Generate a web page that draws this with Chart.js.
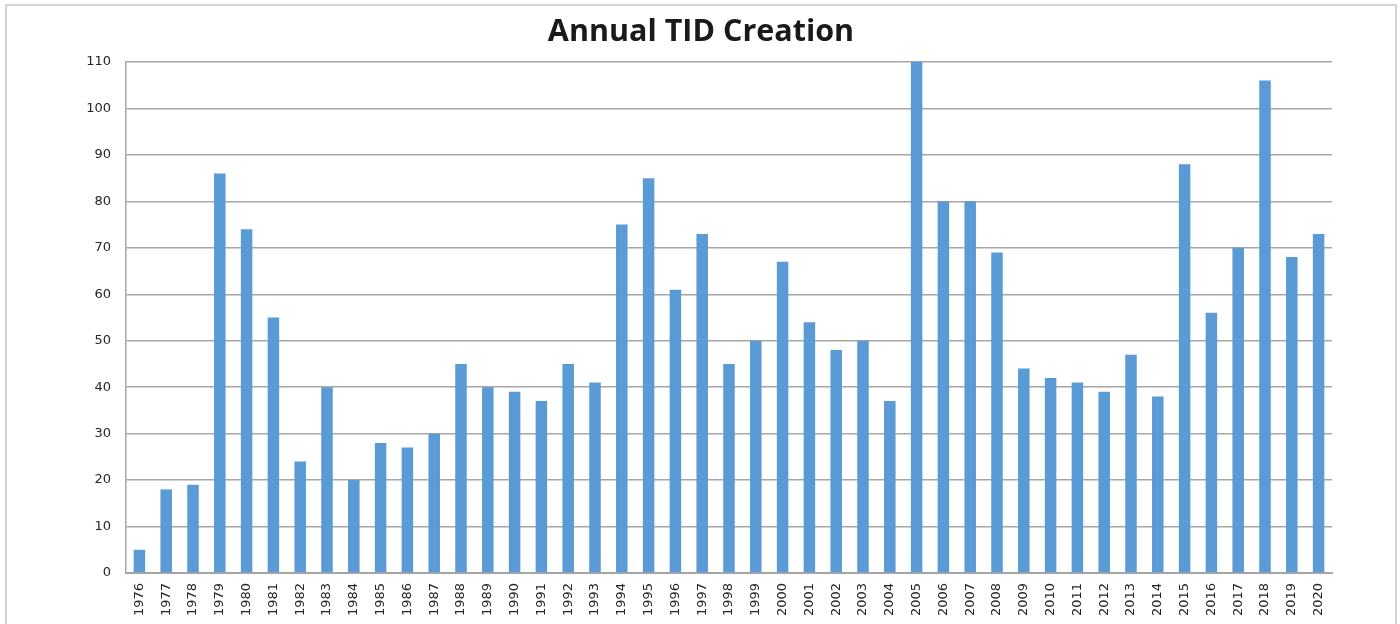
<!DOCTYPE html>
<html>
<head>
<meta charset="utf-8">
<script src="https://cdn.jsdelivr.net/npm/chart.js@4"></script>
<style>
  html, body { margin: 0; padding: 0; background: #fff; }
  #wrap { position: relative; width: 1400px; height: 624px; overflow: hidden; }
  #frame { position: absolute; left: 5px; top: 4px; width: 1388px; height: 700px; border: 2px solid #d4d4d4; }
  #tidChart { position: absolute; left: 0; top: 0; }
</style>
</head>
<body>
<div id="wrap">
  <div id="frame"></div>
  <canvas id="tidChart" width="1400" height="624"></canvas>
</div>
<script>
// Years and TID counts
var years = ["1976", "1977", "1978", "1979", "1980", "1981", "1982", "1983", "1984", "1985",
  "1986", "1987", "1988", "1989", "1990", "1991", "1992", "1993", "1994", "1995",
  "1996", "1997", "1998", "1999", "2000", "2001", "2002", "2003", "2004", "2005",
  "2006", "2007", "2008", "2009", "2010", "2011", "2012", "2013", "2014", "2015",
  "2016", "2017", "2018", "2019", "2020"];
var tidCounts = [5, 18, 19, 86, 74, 55, 24, 40, 20, 28,
  27, 30, 45, 40, 39, 37, 45, 41, 75, 85,
  61, 73, 45, 50, 67, 54, 48, 50, 37, 110,
  80, 80, 69, 44, 42, 41, 39, 47, 38, 88,
  56, 70, 106, 68, 73];
var yMin = 0, yMax = 110, yStep = 10;

document.addEventListener("DOMContentLoaded", function () {
  var ctx = document.getElementById("tidChart").getContext("2d");
  var myChart = new Chart(ctx, {
    type: "bar",
    data: {
      labels: years,
      datasets: [{
        data: tidCounts,
        backgroundColor: "#5b9bd5",
        barPercentage: 0.43,
        categoryPercentage: 1.0
      }]
    },
    options: {
      responsive: false,
      animation: false,
      layout: { padding: { left: 70, right: 68, top: 0, bottom: 0 } },
      plugins: {
        legend: { display: false },
        tooltip: { enabled: false },
        title: {
          display: true,
          text: "Annual TID Creation",
          color: "#1a1a1a",
          font: { family: "Open Sans", size: 30.5, weight: "bold", lineHeight: 1.2 },
          padding: { top: 14, bottom: 11.4 }
        }
      },
      scales: {
        x: {
          grid: { display: false, drawTicks: false },
          border: { display: true, color: "#a6a6a6", width: 2 },
          ticks: {
            color: "#262626",
            font: { family: "DejaVu Sans", size: 13 },
            minRotation: 90,
            maxRotation: 90,
            autoSkip: false,
            padding: 10
          },
          afterFit: function (scale) { scale.height = 51; }
        },
        y: {
          min: yMin,
          max: yMax,
          grid: { color: "#a6a6a6", lineWidth: 1.5, drawTicks: false },
          border: { display: true, color: "#a6a6a6", width: 1.5 },
          ticks: {
            stepSize: yStep,
            color: "#262626",
            font: { family: "DejaVu Sans", size: 13 },
            padding: 15
          },
          afterFit: function (scale) { scale.width = 56; }
        }
      }
    }
  });
});
</script>
</body>
</html>
